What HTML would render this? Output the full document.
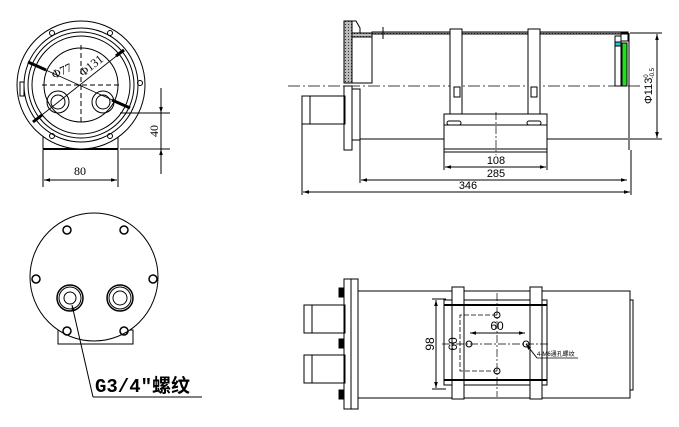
<!DOCTYPE html>
<html><head><meta charset="utf-8"><style>
html,body{margin:0;padding:0;background:#fff;}
svg{display:block;}
text{font-family:"Liberation Sans","Noto Sans CJK SC",sans-serif;fill:#000;}
</style></head><body>
<svg width="679" height="427" viewBox="0 0 679 427" xmlns="http://www.w3.org/2000/svg">
<defs>
<pattern id="h" width="3" height="3" patternUnits="userSpaceOnUse"><rect width="3" height="3" fill="#bbb"/><rect width="1" height="1" fill="#333"/></pattern>
<marker id="a" viewBox="0 0 10 10" refX="10" refY="5" markerWidth="6" markerHeight="6" orient="auto-start-reverse"><path d="M0,2L10,5L0,8z" fill="#000"/></marker>
</defs>
<g fill="none" stroke="#000" stroke-width="1">
<!-- top-left view -->
<rect x="43" y="118" width="75" height="31" fill="#fff"/>
<line x1="43" y1="149" x2="118" y2="149" stroke-width="2"/>
<circle cx="81" cy="85" r="64" fill="#fff"/>
<circle cx="81" cy="85" r="57"/>
<circle cx="81" cy="85" r="53"/>
<circle cx="81" cy="85" r="49"/>
<circle cx="81" cy="85" r="37"/>
<circle cx="52" cy="33" r="2.5"/><circle cx="110" cy="33" r="2.5"/>
<circle cx="140" cy="83" r="2.5"/>
<circle cx="52" cy="136" r="2.5"/><circle cx="110" cy="136" r="2.5"/>
<rect x="20" y="82" width="4" height="14"/>
<circle cx="58" cy="102" r="11"/><circle cx="58" cy="102" r="7"/>
<circle cx="103" cy="102" r="11"/><circle cx="103" cy="102" r="7"/>
<line x1="42" y1="85" x2="120" y2="85" stroke-dasharray="5,3"/>
<line x1="81" y1="45" x2="81" y2="125" stroke-dasharray="5,3"/>
<line x1="28" y1="62" x2="130" y2="108" stroke-width="0.8"/>
<line x1="33" y1="122" x2="124" y2="50" stroke-width="0.8"/>
<line x1="28" y1="62" x2="46" y2="70" stroke-width="3"/>
<line x1="112" y1="100" x2="130" y2="108" stroke-width="3"/>
<line x1="33" y1="122" x2="42" y2="115" stroke-width="3"/>
<line x1="116" y1="56" x2="124" y2="50" stroke-width="3"/>
<line x1="43" y1="150" x2="43" y2="187"/><line x1="118" y1="150" x2="118" y2="187"/>
<line x1="44" y1="180" x2="117" y2="180" marker-start="url(#a)" marker-end="url(#a)"/>
<line x1="120" y1="113" x2="170" y2="113"/><line x1="120" y1="149" x2="170" y2="149"/>
<line x1="161" y1="88" x2="161" y2="113" marker-end="url(#a)"/>
<line x1="161" y1="113" x2="161" y2="149"/>
<line x1="161" y1="174" x2="161" y2="149" marker-end="url(#a)"/>

<!-- top-right view -->
<line x1="288" y1="86" x2="642" y2="86" stroke-dasharray="12,3,2,3" stroke-width="0.8"/>
<rect x="344" y="21" width="8" height="62" fill="url(#h)"/>
<path d="M352,21 L356,21 L360,28 L360,33 L352,33"/>
<rect x="352" y="33" width="20" height="50" fill="#fff"/>
<rect x="352" y="33" width="20" height="4" fill="url(#h)"/>
<rect x="344" y="86" width="8" height="64"/>
<rect x="352" y="89" width="8" height="51"/>
<rect x="372" y="32" width="256" height="2" fill="url(#h)"/>
<line x1="383" y1="27" x2="383" y2="39"/>
<line x1="360" y1="139" x2="628" y2="139"/>
<line x1="629" y1="33" x2="629" y2="150"/>
<rect x="302" y="96" width="43" height="28"/>
<rect x="302" y="96" width="8" height="28"/>
<rect x="615" y="36" width="6" height="50"/>
<rect x="615" y="42" width="6" height="4" fill="#21c3d6"/>
<rect x="622" y="43" width="5" height="43" fill="#22dd22"/>
<rect x="621" y="33" width="7" height="8"/>
<rect x="450" y="29" width="12" height="96" fill="#fff"/>
<rect x="528" y="29" width="12" height="96" fill="#fff"/>
<rect x="454" y="87" width="6" height="10"/><rect x="531" y="87" width="6" height="10"/>
<rect x="444" y="114" width="103" height="38" fill="#fff"/>
<line x1="444" y1="125" x2="547" y2="125"/>
<line x1="444" y1="149" x2="547" y2="149"/>
<rect x="447" y="121" width="14" height="4" rx="2"/><rect x="527" y="121" width="14" height="4" rx="2"/>
<line x1="496" y1="112" x2="496" y2="155" stroke-dasharray="8,2,2,2" stroke-width="0.7"/>
<line x1="444" y1="152" x2="444" y2="170"/><line x1="547" y1="152" x2="547" y2="170"/>
<line x1="445" y1="167" x2="546" y2="167" marker-start="url(#a)" marker-end="url(#a)"/>
<line x1="360" y1="140" x2="360" y2="183"/>
<line x1="361" y1="180" x2="627" y2="180" marker-start="url(#a)" marker-end="url(#a)"/>
<line x1="302" y1="124" x2="302" y2="195"/><line x1="631" y1="150" x2="631" y2="195"/>
<line x1="303" y1="192" x2="630" y2="192" marker-start="url(#a)" marker-end="url(#a)"/>
<line x1="630" y1="33" x2="662" y2="33"/><line x1="630" y1="139" x2="662" y2="139"/>
<line x1="657" y1="34" x2="657" y2="138" marker-start="url(#a)" marker-end="url(#a)"/>

<!-- bottom-left view -->
<rect x="58" y="330" width="75" height="14" fill="#fff"/>
<circle cx="94" cy="277" r="64" fill="#fff"/>
<g stroke-width="1.5">
<circle cx="67" cy="230" r="4"/><circle cx="124" cy="230" r="4"/>
<circle cx="36" cy="279" r="4"/><circle cx="153" cy="279" r="4"/>
<circle cx="67" cy="331" r="4"/><circle cx="124" cy="331" r="4"/>
<circle cx="70" cy="298" r="13"/><circle cx="120" cy="298" r="13"/>
</g>
<circle cx="70" cy="298" r="11"/><circle cx="120" cy="298" r="11"/>
<circle cx="70" cy="298" r="6"/><circle cx="120" cy="298" r="7"/>
<line x1="93" y1="397" x2="72" y2="305" marker-end="url(#a)"/>
<line x1="93" y1="397" x2="202" y2="397"/>

<!-- bottom-right view -->
<rect x="358" y="291" width="272" height="107"/>
<rect x="630" y="300" width="3" height="90"/>
<rect x="344" y="279" width="14" height="130" fill="#fff"/>
<line x1="351" y1="279" x2="351" y2="409"/>
<rect x="339" y="288" width="5" height="9" fill="#000"/>
<rect x="339" y="339" width="5" height="9" fill="#000"/>
<rect x="339" y="390" width="5" height="9" fill="#000"/>
<rect x="304" y="305" width="41" height="28"/><rect x="304" y="305" width="8" height="28"/>
<rect x="304" y="355" width="41" height="28"/><rect x="304" y="355" width="8" height="28"/>
<rect x="444" y="300" width="103" height="85" fill="#fff"/>
<rect x="444" y="305" width="103" height="75"/>
<rect x="452" y="287" width="12" height="112" fill="#fff"/>
<rect x="530" y="287" width="12" height="112" fill="#fff"/>
<line x1="444" y1="305" x2="547" y2="305" stroke-width="2"/>
<line x1="444" y1="380" x2="547" y2="380" stroke-width="2"/>
<path d="M497,315 L460,315 L460,371 L497,371" stroke-dasharray="5,2" stroke-width="0.8"/>
<line x1="497" y1="293" x2="497" y2="397" stroke-dasharray="8,2,2,2" stroke-width="0.7"/>
<line x1="442" y1="344" x2="550" y2="344" stroke-dasharray="8,2,2,2" stroke-width="0.7"/>
<circle cx="497" cy="315" r="3"/><circle cx="469" cy="344" r="3"/>
<circle cx="526" cy="344" r="3"/><circle cx="497" cy="371" r="3"/>
<line x1="470" y1="333" x2="525" y2="333" marker-start="url(#a)" marker-end="url(#a)"/>
<line x1="436" y1="300" x2="436" y2="388" marker-start="url(#a)" marker-end="url(#a)"/>
<line x1="432" y1="299" x2="446" y2="299"/><line x1="432" y1="389" x2="446" y2="389"/>
<line x1="537" y1="358" x2="526" y2="344" marker-end="url(#a)"/>
<line x1="537" y1="358" x2="578" y2="358" stroke-width="0.7"/>
</g>
<g font-size="12">
<text x="80" y="175" text-anchor="middle" style="font-family:'Liberation Serif',serif">80</text>
<text transform="translate(158,131) rotate(-90)" text-anchor="middle" style="font-family:'Liberation Serif',serif">40</text>
<text transform="translate(54,79) rotate(-25)" font-size="12" style="font-family:'Liberation Serif',serif">Φ77</text>
<text transform="translate(83,77) rotate(-38)" font-size="12" style="font-family:'Liberation Serif',serif">Φ131</text>
<text x="496" y="164" text-anchor="middle" font-size="11">108</text>
<text x="496" y="177" text-anchor="middle" font-size="11">285</text>
<text x="468" y="189" text-anchor="middle" font-size="11">346</text>
<text transform="translate(652,86) rotate(-90)" text-anchor="middle" font-size="11">Φ113<tspan font-size="6" dy="-4">0</tspan><tspan font-size="6" dx="-4" dy="6">-0.5</tspan></text>
<text x="497" y="330" text-anchor="middle" font-size="12">60</text>
<text transform="translate(434,344) rotate(-90)" text-anchor="middle" font-size="12">98</text>
<text transform="translate(457,344) rotate(-90)" text-anchor="middle" font-size="12">60</text>
<text x="537" y="356" font-size="6">4-M6通孔螺纹</text>
<text x="95" y="392" font-size="19" font-weight="bold" style="font-family:'Liberation Mono','Noto Sans CJK SC',monospace">G3/4″螺纹</text>
</g>
</svg>
</body></html>
